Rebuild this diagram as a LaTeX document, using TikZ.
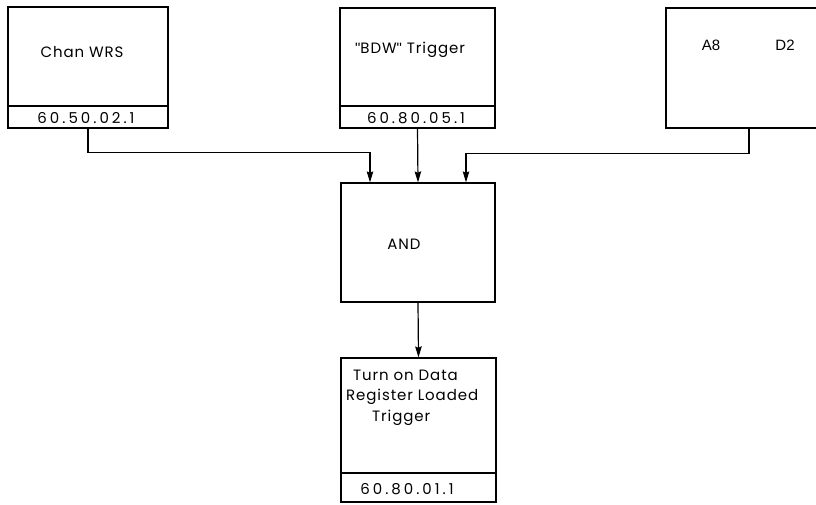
\documentclass[tikz,border=0pt]{standalone}
\usepackage{fontspec}
\setmainfont{Poppins}[LetterSpace=6]
\newfontfamily\numfont{Poppins}[LetterSpace=20]
\newfontfamily\helv{Liberation Sans}
\usetikzlibrary{arrows.meta}
\tikzset{
  box/.style={draw, line width=1.2pt, inner sep=0pt},
  lbl/.style={inner sep=0pt, font=\fontsize{15}{18}\selectfont},
  num/.style={inner sep=0pt, font=\numfont\fontsize{15}{18}\selectfont},
  arr/.style={line width=1.2pt, -{Stealth[length=11pt,width=6.5pt,inset=1.5pt]}}
}
\begin{document}
\begin{tikzpicture}[x=1pt,y=-1pt]
\useasboundingbox (0,0) rectangle (816,504);
% box 1
\node[box, minimum width=160pt, minimum height=99pt] (b1) at (88,56.5) {};
\node[box, minimum width=160pt, minimum height=22pt] (s1) at (88,117) {};
\node[lbl] (t1) at (82,52) {Chan WRS};
\node[num] (n1) at (86,118) {60.50.02.1};
% box 2
\node[box, minimum width=155pt, minimum height=98pt] (b2) at (417.5,57) {};
\node[box, minimum width=155pt, minimum height=22pt] (s2) at (417.5,117) {};
\node[lbl] (t2) at (410,50) {{\helv"}BDW{\helv"} Trigger};
\node[num] (n2) at (416,118) {60.80.05.1};
% box 3
\node[box, minimum width=160pt, minimum height=120pt] (b3) at (746,68) {};
\node[lbl, font=\helv\fontsize{15}{18}\selectfont] (a8) at (711,45) {A8};
\node[lbl, font=\helv\fontsize{15}{18}\selectfont] (d2) at (785,45) {D2};
% AND
\node[box, minimum width=154pt, minimum height=119pt] (and) at (418,242.5) {};
\node[lbl] (tand) at (404,244) {AND};
% bottom box
\node[box, minimum width=155pt, minimum height=115pt] (bot) at (418.5,415.5) {};
\node[box, minimum width=155pt, minimum height=29pt] (sbot) at (418.5,487.5) {};
\node[lbl, anchor=west] (l1) at (353,375) {Turn on Data};
\node[lbl, anchor=west] (l2) at (346,397) {Register Loaded};
\node[lbl, anchor=west] (l3) at (372,418) {Trigger};
\node[num] (n4) at (407,489) {60.80.01.1};
% connectors
\coordinate (in1) at ([xshift=-48pt]and.north);
\coordinate (in3) at ([xshift=48pt]and.north);
\coordinate (o3) at ([xshift=3pt]b3.south);
\draw[arr] (s1.south) -- ++(0,24) -| (in1);
\draw[arr] (s2.south) -- (and.north);
\draw[arr] (o3) -- ++(0,25) -| (in3);
\draw[arr] (and.south) -- (bot.north);
\end{tikzpicture}
\end{document}
